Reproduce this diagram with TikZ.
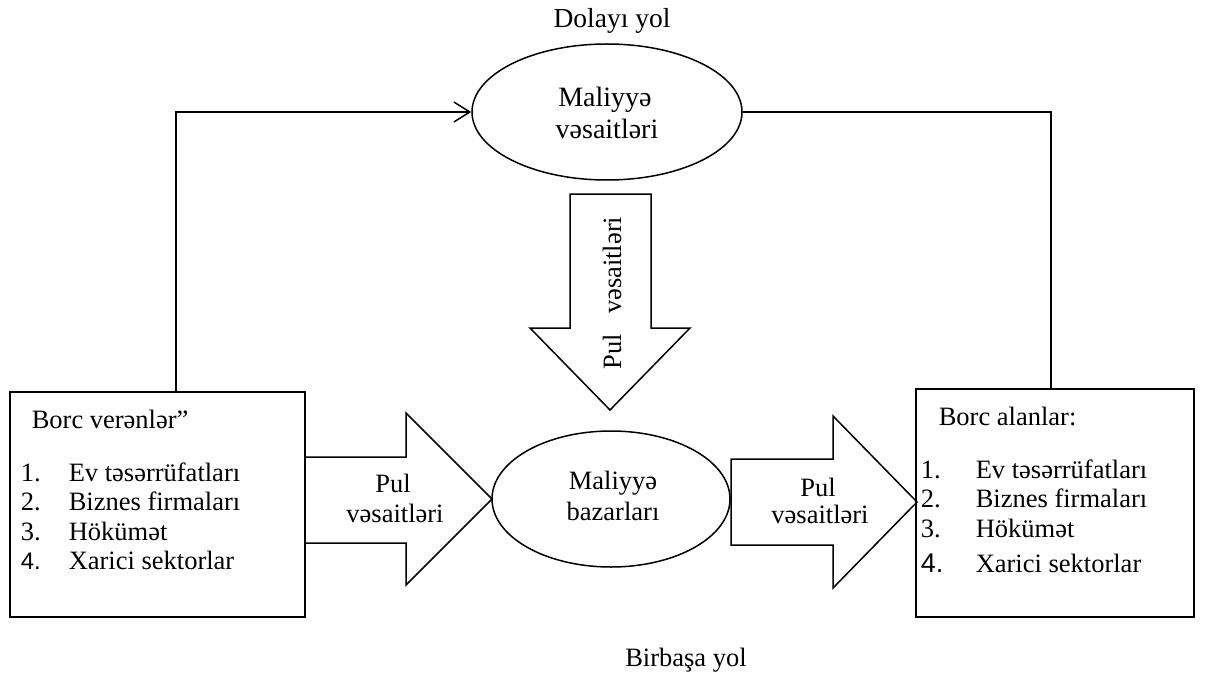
\documentclass[tikz,border=0pt]{standalone}
\usepackage{fontspec}
\setmainfont{Liberation Serif}
\newfontfamily\arialf{Liberation Sans}
\usetikzlibrary{shapes.geometric,arrows.meta}
\begin{document}
\begin{tikzpicture}[x=1pt,y=-1pt,line width=1.5pt,
  txt/.style={font=\fontsize{26.5}{29}\selectfont,inner sep=0pt,anchor=base},
  lft/.style={txt,anchor=base west},
  oval/.style={ellipse,draw,inner sep=0pt},
  boxnode/.style={draw,inner sep=0pt},
  blockarrow/.style={draw,line join=miter},
  barb/.style={-{Straight Barb[length=16pt,width=20pt,line width=1.5pt]}}]
\useasboundingbox (0,0) rectangle (1206,695);

% titles
\node[txt,font=\fontsize{27.5}{29}\selectfont] (dolayi) at (612,28) {Dolayı yol};
\node[txt] (birbasa) at (686,666) {Birbaşa yol};

% top ellipse
\node[oval,minimum width=270pt,minimum height=136pt] (top) at (607,112) {};
\node[txt,font=\fontsize{28}{30}\selectfont] (topa) at (605,107) {Maliyyə};
\node[txt,font=\fontsize{28}{30}\selectfont] (topb) at (607,139) {vəsaitləri};

% middle ellipse
\node[oval,minimum width=238pt,minimum height=136pt] (mid) at (611,499) {};
\node[txt] (mida) at (613,489) {Maliyyə};
\node[txt] (midb) at (613,520) {bazarları};

% left box
\node[boxnode,minimum width=295pt,minimum height=225pt] (lb) at (157.5,504.5) {};
\node[lft] (lbh) at (31,428) {Borc verənlər”};
\node[lft] (ln1) at (20,481) {1.};
\node[lft] (lt1) at (68,481) {Ev təsərrüfatları};
\node[lft] (ln2) at (20,510) {2.};
\node[lft] (lt2) at (68,510) {Biznes firmaları};
\node[lft] (ln3) at (20,540) {3.};
\node[lft] (lt3) at (68,540) {Hökümət};
\node[lft,font=\arialf\fontsize{24}{29}\selectfont] (ln4) at (20,569) {4.};
\node[lft] (lt4) at (68,569) {Xarici sektorlar};

% right box
\node[boxnode,minimum width=278pt,minimum height=228pt] (rb) at (1055,503) {};
\node[lft] (rbh) at (938,425) {Borc alanlar:};
\node[lft] (rn1) at (920,478) {1.};
\node[lft] (rt1) at (975,478) {Ev təsərrüfatları};
\node[lft] (rn2) at (920,507) {2.};
\node[lft] (rt2) at (975,507) {Biznes firmaları};
\node[lft] (rn3) at (920,537) {3.};
\node[lft] (rt3) at (975,537) {Hökümət};
\node[lft,font=\arialf\fontsize{27}{29}\selectfont] (rn4) at (920,572) {4.};
\node[lft] (rt4) at (975,572) {Xarici sektorlar};

% block arrows
\draw[blockarrow] (570,194) -- (651,194) -- (651,328) -- (690,328) -- (610,410) -- (530,328) -- (570,328) -- cycle;
\node[txt,anchor=center,rotate=90] (downtxt) at (612,293) {Pul\hspace{0.75em}vəsaitləri};

\draw[blockarrow] (305,457) -- (406,457) -- (406,413) -- (492,499) -- (406,585) -- (406,543) -- (305,543);
\node[txt] (la1) at (393,492) {Pul};
\node[txt] (la2) at (395,522) {vəsaitləri};

\draw[blockarrow] (731,459) -- (833,459) -- (833,416) -- (917,502) -- (833,588) -- (833,545) -- (731,545) -- cycle;
\node[txt] (ra1) at (818,496) {Pul};
\node[txt] (ra2) at (820,523) {vəsaitləri};

% indirect route connectors
\coordinate (lc) at (176,112);
\coordinate (rc) at (1051,112);
\draw[barb] (lb.north -| lc) -- (lc) -- (top.west);
\draw (top.east) -- (rc) -- (rb.north -| rc);
\end{tikzpicture}
\end{document}
